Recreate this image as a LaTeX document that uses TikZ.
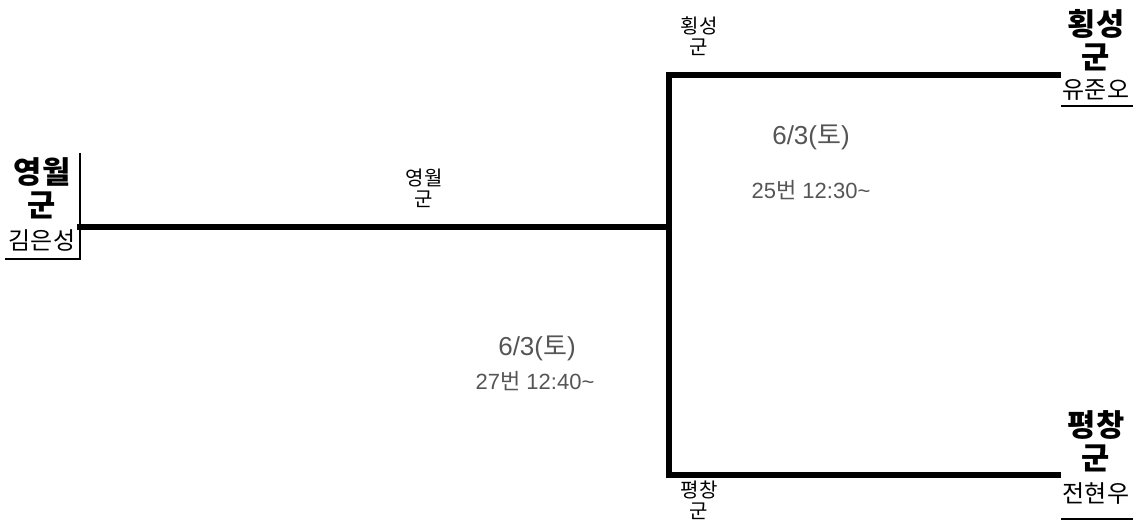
\documentclass[tikz,border=0pt]{standalone}
\usepackage{fontspec}
\setmainfont{Liberation Sans}
\newfontfamily\kr{Noto Sans CJK KR}
\definecolor{match_gray}{RGB}{85, 85, 85}
\usepackage{tikz}
\usetikzlibrary{positioning, calc}

\begin{document}
\begin{tikzpicture}[x=0.75pt, y=-0.75pt,
        bracket/.style={line width=4.5pt, line cap=rect},
        frame/.style={line width=1pt},
        county/.style={font=\kr\bfseries\fontsize{23}{25}\selectfont,
                       align=center, inner sep=0pt},
        player/.style={font=\kr\fontsize{18}{20}\selectfont, inner sep=0pt},
        slotname/.style={font=\kr\fontsize{15}{16}\selectfont,
                         align=center, inner sep=0pt},
        matchinfo/.style={color=match_gray, inner sep=0pt}]
        \useasboundingbox (0,0) rectangle (1133,527);
        % Left entry
        \node[county] (ywName) at (42,188) {영월\\군};
        \node[player] (ywPlayer) at (42,240) {김은성};
        \coordinate (ywTop) at (80,153);
        \coordinate (ywCorner) at (80,259);
        \coordinate (ywEnd) at (5,259);
        \draw[frame] (ywTop) -- (ywCorner) -- (ywEnd);
        % Right entries
        \node[county] (hsName) at (1096,40) {횡성\\군};
        \node[player] (hsPlayer) at (1096,90) {유준오};
        \coordinate (hsLine) at (1061,106);
        \coordinate (hsLineEnd) at (1133,106);
        \draw[frame] (hsLine) -- (hsLineEnd);
        \node[county] (pcName) at (1096,441) {평창\\군};
        \node[player] (pcPlayer) at (1096,494) {전현우};
        \coordinate (pcLine) at (1061,519);
        \coordinate (pcLineEnd) at (1133,519);
        \draw[frame] (pcLine) -- (pcLineEnd);
        % Bracket
        \coordinate (ywStart) at (80,227.5);
        \coordinate (junction) at (669,227.5);
        \coordinate (hsTop) at (669,75.5);
        \coordinate (hsStart) at (1058,75.5);
        \coordinate (pcBottom) at (669,475.5);
        \coordinate (pcStart) at (1058,475.5);
        \draw[bracket] (ywStart) -- (junction);
        \draw[bracket] (hsStart) -- (hsTop) -- (pcBottom) -- (pcStart);
        % Slot labels
        \node[slotname] (ywSlot) at (424,188) {영월\\군};
        \node[slotname] (hsSlot) at (699,36) {횡성\\군};
        \node[slotname] (pcSlot) at (699,500) {평창\\군};
        % Match info
        \node[matchinfo, font=\fontsize{19.5}{22}\selectfont] (upDate) at (811,137)
          {6/3({\kr 토})};
        \node[matchinfo, font=\fontsize{16.5}{18}\selectfont] (upGame) at (811,190)
          {25{\kr 번} 12:30\textasciitilde};
        \node[matchinfo, font=\fontsize{19.5}{22}\selectfont] (lowDate) at (537,348)
          {6/3({\kr 토})};
        \node[matchinfo, font=\fontsize{16.5}{18}\selectfont] (lowGame) at (535,381)
          {27{\kr 번} 12:40\textasciitilde};
\end{tikzpicture}
\end{document}
